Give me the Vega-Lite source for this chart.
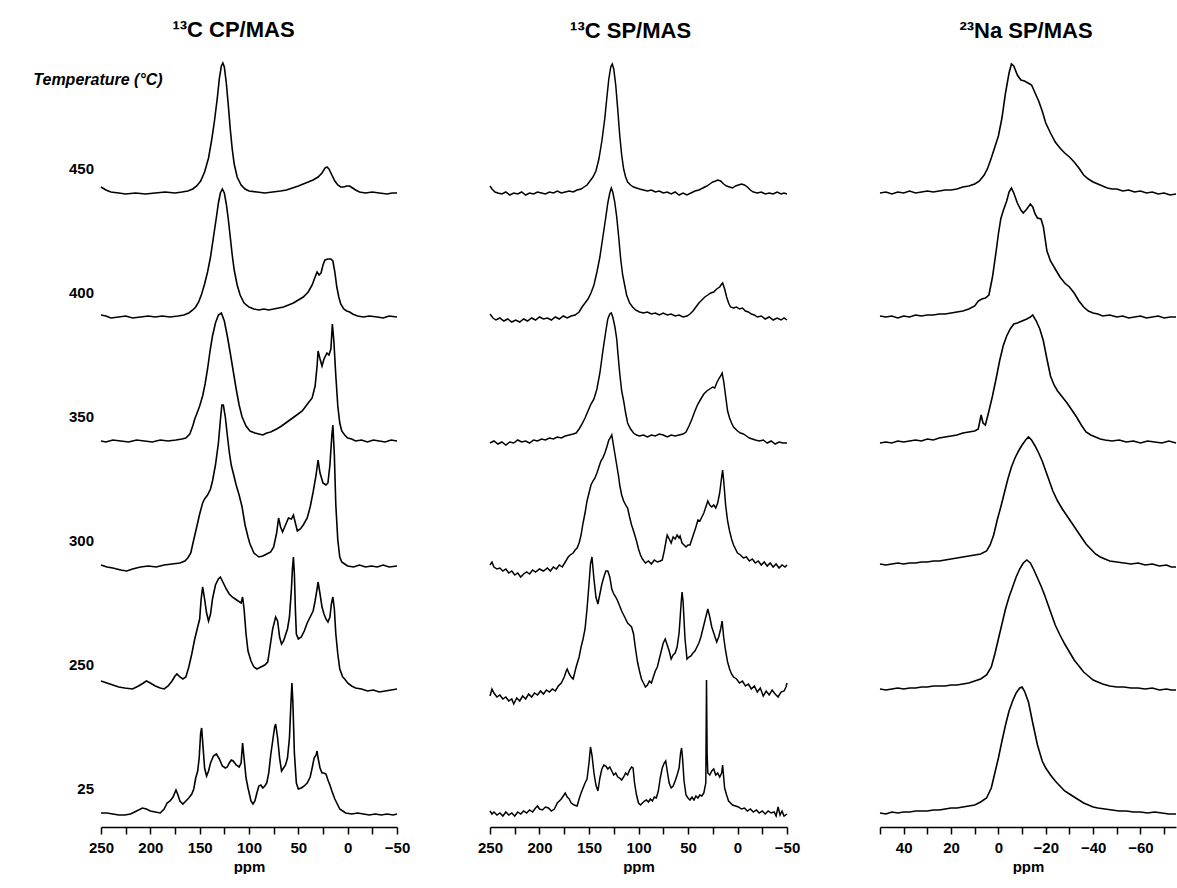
{
"$schema": "https://vega.github.io/schema/vega-lite/v6.json",
"background": "white",
"padding": {"left": 33, "top": 18, "right": 0, "bottom": 0},
"config": {
  "view": {"stroke": null},
  "font": "Liberation Sans",
  "line": {"color": "black", "strokeWidth": 1.6},
  "axisX": {"domainColor": "black", "domainWidth": 1.5, "tickColor": "black", "tickWidth": 1.5, "tickSize": 7, "labelFontSize": 15, "labelFontWeight": "bold", "labelColor": "black", "labelFlush": false, "labelPadding": 6, "titleFontSize": 15, "titleFontWeight": "bold", "titleColor": "black", "titlePadding": 4, "grid": false, "offset": -24},
  "title": {"fontSize": 22, "fontWeight": "bold", "color": "black", "anchor": "middle", "offset": 18}
},
"spacing": 76,
"datasets": {
"cp": [
{"t":450,"ppm":250,"i":6},{"t":450,"ppm":245,"i":3},{"t":450,"ppm":240,"i":1},{"t":450,"ppm":232,"i":0},{"t":450,"ppm":225,"i":-1},{"t":450,"ppm":215,"i":0},{"t":450,"ppm":205,"i":-1},{"t":450,"ppm":195,"i":0},{"t":450,"ppm":185,"i":1},{"t":450,"ppm":175,"i":0},{"t":450,"ppm":168,"i":1},{"t":450,"ppm":162,"i":2},{"t":450,"ppm":157,"i":4},{"t":450,"ppm":153,"i":7},{"t":450,"ppm":149,"i":12},{"t":450,"ppm":145,"i":21},{"t":450,"ppm":141,"i":35},{"t":450,"ppm":138,"i":52},{"t":450,"ppm":135,"i":72},{"t":450,"ppm":132,"i":96},{"t":450,"ppm":130,"i":115},{"t":450,"ppm":128,"i":127},{"t":450,"ppm":126.5,"i":130},{"t":450,"ppm":125,"i":126},{"t":450,"ppm":123,"i":110},{"t":450,"ppm":121,"i":88},{"t":450,"ppm":119,"i":64},{"t":450,"ppm":117,"i":44},{"t":450,"ppm":115,"i":29},{"t":450,"ppm":112,"i":16},{"t":450,"ppm":108,"i":8},{"t":450,"ppm":104,"i":4},{"t":450,"ppm":100,"i":2},{"t":450,"ppm":92,"i":1},{"t":450,"ppm":84,"i":0},{"t":450,"ppm":76,"i":1},{"t":450,"ppm":68,"i":2},{"t":450,"ppm":62,"i":3},{"t":450,"ppm":56,"i":5},{"t":450,"ppm":50,"i":7},{"t":450,"ppm":45,"i":9},{"t":450,"ppm":40,"i":11},{"t":450,"ppm":35,"i":13},{"t":450,"ppm":30,"i":16},{"t":450,"ppm":26,"i":20},{"t":450,"ppm":23,"i":25},{"t":450,"ppm":21,"i":26},{"t":450,"ppm":19,"i":24},{"t":450,"ppm":16,"i":18},{"t":450,"ppm":13,"i":12},{"t":450,"ppm":10,"i":8},{"t":450,"ppm":7,"i":6},{"t":450,"ppm":4,"i":6},{"t":450,"ppm":1,"i":7},{"t":450,"ppm":-2,"i":7},{"t":450,"ppm":-5,"i":5},{"t":450,"ppm":-8,"i":3},{"t":450,"ppm":-12,"i":1},{"t":450,"ppm":-18,"i":0},{"t":450,"ppm":-25,"i":1},{"t":450,"ppm":-32,"i":0},{"t":450,"ppm":-40,"i":-1},{"t":450,"ppm":-45,"i":0},{"t":450,"ppm":-50,"i":0},
{"t":400,"ppm":250,"i":2},{"t":400,"ppm":245,"i":1},{"t":400,"ppm":240,"i":-1},{"t":400,"ppm":232,"i":0},{"t":400,"ppm":225,"i":1},{"t":400,"ppm":218,"i":-1},{"t":400,"ppm":210,"i":0},{"t":400,"ppm":202,"i":1},{"t":400,"ppm":195,"i":0},{"t":400,"ppm":188,"i":1},{"t":400,"ppm":180,"i":0},{"t":400,"ppm":172,"i":1},{"t":400,"ppm":166,"i":2},{"t":400,"ppm":161,"i":4},{"t":400,"ppm":157,"i":7},{"t":400,"ppm":154,"i":10},{"t":400,"ppm":151,"i":15},{"t":400,"ppm":148,"i":23},{"t":400,"ppm":145,"i":33},{"t":400,"ppm":142,"i":45},{"t":400,"ppm":139,"i":60},{"t":400,"ppm":136,"i":80},{"t":400,"ppm":133,"i":100},{"t":400,"ppm":131,"i":114},{"t":400,"ppm":129,"i":124},{"t":400,"ppm":127,"i":128},{"t":400,"ppm":125,"i":124},{"t":400,"ppm":123,"i":113},{"t":400,"ppm":121,"i":98},{"t":400,"ppm":119,"i":80},{"t":400,"ppm":117,"i":62},{"t":400,"ppm":115,"i":47},{"t":400,"ppm":112,"i":32},{"t":400,"ppm":109,"i":22},{"t":400,"ppm":105,"i":14},{"t":400,"ppm":100,"i":10},{"t":400,"ppm":95,"i":8},{"t":400,"ppm":90,"i":7},{"t":400,"ppm":85,"i":8},{"t":400,"ppm":80,"i":7},{"t":400,"ppm":75,"i":8},{"t":400,"ppm":70,"i":9},{"t":400,"ppm":65,"i":10},{"t":400,"ppm":60,"i":12},{"t":400,"ppm":55,"i":14},{"t":400,"ppm":50,"i":17},{"t":400,"ppm":45,"i":20},{"t":400,"ppm":40,"i":25},{"t":400,"ppm":36,"i":32},{"t":400,"ppm":33,"i":40},{"t":400,"ppm":31,"i":45},{"t":400,"ppm":29,"i":42},{"t":400,"ppm":27,"i":44},{"t":400,"ppm":25,"i":52},{"t":400,"ppm":23,"i":57},{"t":400,"ppm":20,"i":58},{"t":400,"ppm":17,"i":58},{"t":400,"ppm":15,"i":56},{"t":400,"ppm":13,"i":45},{"t":400,"ppm":11,"i":30},{"t":400,"ppm":9,"i":20},{"t":400,"ppm":7,"i":13},{"t":400,"ppm":4,"i":8},{"t":400,"ppm":1,"i":6},{"t":400,"ppm":-2,"i":5},{"t":400,"ppm":-5,"i":3},{"t":400,"ppm":-10,"i":1},{"t":400,"ppm":-16,"i":0},{"t":400,"ppm":-22,"i":1},{"t":400,"ppm":-30,"i":0},{"t":400,"ppm":-36,"i":-1},{"t":400,"ppm":-42,"i":1},{"t":400,"ppm":-50,"i":0},
{"t":350,"ppm":250,"i":0},{"t":350,"ppm":245,"i":-1},{"t":350,"ppm":238,"i":1},{"t":350,"ppm":230,"i":0},{"t":350,"ppm":222,"i":-1},{"t":350,"ppm":214,"i":1},{"t":350,"ppm":206,"i":0},{"t":350,"ppm":198,"i":-1},{"t":350,"ppm":190,"i":1},{"t":350,"ppm":182,"i":0},{"t":350,"ppm":174,"i":1},{"t":350,"ppm":168,"i":2},{"t":350,"ppm":164,"i":3},{"t":350,"ppm":160,"i":7},{"t":350,"ppm":157,"i":15},{"t":350,"ppm":155,"i":22},{"t":350,"ppm":153,"i":27},{"t":350,"ppm":150,"i":35},{"t":350,"ppm":147,"i":45},{"t":350,"ppm":144.5,"i":57},{"t":350,"ppm":142,"i":72},{"t":350,"ppm":139.5,"i":90},{"t":350,"ppm":137,"i":105},{"t":350,"ppm":134,"i":118},{"t":350,"ppm":131,"i":126},{"t":350,"ppm":128,"i":128},{"t":350,"ppm":125,"i":120},{"t":350,"ppm":122,"i":105},{"t":350,"ppm":119,"i":88},{"t":350,"ppm":116,"i":70},{"t":350,"ppm":113,"i":52},{"t":350,"ppm":110,"i":36},{"t":350,"ppm":107,"i":24},{"t":350,"ppm":103,"i":15},{"t":350,"ppm":99,"i":10},{"t":350,"ppm":94,"i":8},{"t":350,"ppm":90,"i":7},{"t":350,"ppm":86,"i":6},{"t":350,"ppm":82,"i":8},{"t":350,"ppm":78,"i":9},{"t":350,"ppm":72,"i":12},{"t":350,"ppm":67,"i":15},{"t":350,"ppm":60,"i":20},{"t":350,"ppm":53,"i":25},{"t":350,"ppm":46,"i":30},{"t":350,"ppm":40,"i":38},{"t":350,"ppm":36,"i":43},{"t":350,"ppm":33,"i":55},{"t":350,"ppm":31,"i":75},{"t":350,"ppm":30,"i":90},{"t":350,"ppm":28,"i":82},{"t":350,"ppm":26,"i":75},{"t":350,"ppm":24,"i":82},{"t":350,"ppm":21,"i":88},{"t":350,"ppm":19,"i":86},{"t":350,"ppm":17,"i":92},{"t":350,"ppm":15.5,"i":117},{"t":350,"ppm":14,"i":100},{"t":350,"ppm":12,"i":65},{"t":350,"ppm":10,"i":35},{"t":350,"ppm":8,"i":18},{"t":350,"ppm":6,"i":10},{"t":350,"ppm":3,"i":6},{"t":350,"ppm":0,"i":3},{"t":350,"ppm":-4,"i":2},{"t":350,"ppm":-8,"i":0},{"t":350,"ppm":-14,"i":1},{"t":350,"ppm":-20,"i":-1},{"t":350,"ppm":-26,"i":1},{"t":350,"ppm":-32,"i":0},{"t":350,"ppm":-38,"i":-1},{"t":350,"ppm":-44,"i":1},{"t":350,"ppm":-50,"i":0},
{"t":300,"ppm":250,"i":0},{"t":300,"ppm":244,"i":-2},{"t":300,"ppm":238,"i":-3},{"t":300,"ppm":230,"i":-5},{"t":300,"ppm":224,"i":-6},{"t":300,"ppm":218,"i":-4},{"t":300,"ppm":210,"i":-2},{"t":300,"ppm":202,"i":-1},{"t":300,"ppm":194,"i":-2},{"t":300,"ppm":186,"i":0},{"t":300,"ppm":178,"i":1},{"t":300,"ppm":170,"i":2},{"t":300,"ppm":165,"i":4},{"t":300,"ppm":162,"i":7},{"t":300,"ppm":159,"i":12},{"t":300,"ppm":157,"i":21},{"t":300,"ppm":153,"i":38},{"t":300,"ppm":150,"i":51},{"t":300,"ppm":147,"i":62},{"t":300,"ppm":145,"i":66},{"t":300,"ppm":142,"i":70},{"t":300,"ppm":139,"i":76},{"t":300,"ppm":137,"i":84},{"t":300,"ppm":134,"i":100},{"t":300,"ppm":131,"i":122},{"t":300,"ppm":129,"i":145},{"t":300,"ppm":127.5,"i":160},{"t":300,"ppm":126,"i":160},{"t":300,"ppm":124,"i":148},{"t":300,"ppm":122,"i":130},{"t":300,"ppm":120,"i":113},{"t":300,"ppm":118,"i":100},{"t":300,"ppm":116,"i":92},{"t":300,"ppm":113,"i":80},{"t":300,"ppm":110,"i":70},{"t":300,"ppm":107,"i":58},{"t":300,"ppm":104,"i":40},{"t":300,"ppm":101,"i":28},{"t":300,"ppm":99,"i":21},{"t":300,"ppm":95,"i":12},{"t":300,"ppm":90,"i":8},{"t":300,"ppm":86,"i":9},{"t":300,"ppm":82,"i":11},{"t":300,"ppm":78,"i":13},{"t":300,"ppm":75,"i":18},{"t":300,"ppm":72,"i":32},{"t":300,"ppm":70,"i":47},{"t":300,"ppm":68,"i":38},{"t":300,"ppm":66,"i":33},{"t":300,"ppm":63,"i":40},{"t":300,"ppm":60,"i":47},{"t":300,"ppm":57,"i":46},{"t":300,"ppm":55,"i":50},{"t":300,"ppm":53,"i":42},{"t":300,"ppm":51,"i":34},{"t":300,"ppm":48,"i":36},{"t":300,"ppm":45,"i":40},{"t":300,"ppm":41,"i":47},{"t":300,"ppm":38,"i":58},{"t":300,"ppm":35,"i":73},{"t":300,"ppm":32,"i":90},{"t":300,"ppm":30,"i":105},{"t":300,"ppm":28,"i":92},{"t":300,"ppm":25,"i":82},{"t":300,"ppm":22,"i":80},{"t":300,"ppm":20,"i":82},{"t":300,"ppm":18,"i":100},{"t":300,"ppm":16,"i":130},{"t":300,"ppm":15,"i":140},{"t":300,"ppm":13.5,"i":110},{"t":300,"ppm":12,"i":60},{"t":300,"ppm":10,"i":25},{"t":300,"ppm":8,"i":8},{"t":300,"ppm":6,"i":3},{"t":300,"ppm":3,"i":1},{"t":300,"ppm":0,"i":-1},{"t":300,"ppm":-6,"i":-2},{"t":300,"ppm":-12,"i":0},{"t":300,"ppm":-18,"i":-2},{"t":300,"ppm":-24,"i":-1},{"t":300,"ppm":-30,"i":-2},{"t":300,"ppm":-36,"i":0},{"t":300,"ppm":-42,"i":-2},{"t":300,"ppm":-50,"i":-1},
{"t":250,"ppm":250,"i":8},{"t":250,"ppm":244,"i":6},{"t":250,"ppm":238,"i":4},{"t":250,"ppm":232,"i":2},{"t":250,"ppm":226,"i":1},{"t":250,"ppm":218,"i":0},{"t":250,"ppm":212,"i":3},{"t":250,"ppm":207,"i":6},{"t":250,"ppm":204,"i":8},{"t":250,"ppm":200,"i":6},{"t":250,"ppm":195,"i":3},{"t":250,"ppm":190,"i":1},{"t":250,"ppm":186,"i":0},{"t":250,"ppm":182,"i":3},{"t":250,"ppm":178,"i":8},{"t":250,"ppm":175,"i":13},{"t":250,"ppm":173,"i":15},{"t":250,"ppm":170,"i":12},{"t":250,"ppm":167,"i":10},{"t":250,"ppm":164,"i":12},{"t":250,"ppm":161,"i":22},{"t":250,"ppm":158,"i":35},{"t":250,"ppm":155,"i":50},{"t":250,"ppm":152,"i":62},{"t":250,"ppm":150,"i":70},{"t":250,"ppm":148.5,"i":90},{"t":250,"ppm":147,"i":102},{"t":250,"ppm":145,"i":90},{"t":250,"ppm":143,"i":76},{"t":250,"ppm":141,"i":68},{"t":250,"ppm":139,"i":75},{"t":250,"ppm":137,"i":90},{"t":250,"ppm":134,"i":104},{"t":250,"ppm":131,"i":110},{"t":250,"ppm":129,"i":112},{"t":250,"ppm":126,"i":106},{"t":250,"ppm":123,"i":100},{"t":250,"ppm":120,"i":95},{"t":250,"ppm":117,"i":92},{"t":250,"ppm":114,"i":90},{"t":250,"ppm":111,"i":88},{"t":250,"ppm":108,"i":86},{"t":250,"ppm":106.5,"i":92},{"t":250,"ppm":105,"i":80},{"t":250,"ppm":103,"i":55},{"t":250,"ppm":101,"i":38},{"t":250,"ppm":98,"i":28},{"t":250,"ppm":95,"i":22},{"t":250,"ppm":92,"i":20},{"t":250,"ppm":88,"i":22},{"t":250,"ppm":84,"i":24},{"t":250,"ppm":81,"i":27},{"t":250,"ppm":79,"i":40},{"t":250,"ppm":76,"i":60},{"t":250,"ppm":73,"i":72},{"t":250,"ppm":71,"i":68},{"t":250,"ppm":69,"i":52},{"t":250,"ppm":67,"i":45},{"t":250,"ppm":65,"i":48},{"t":250,"ppm":63,"i":54},{"t":250,"ppm":61,"i":60},{"t":250,"ppm":59,"i":72},{"t":250,"ppm":57,"i":100},{"t":250,"ppm":56,"i":120},{"t":250,"ppm":55,"i":132},{"t":250,"ppm":54,"i":115},{"t":250,"ppm":53,"i":80},{"t":250,"ppm":52,"i":55},{"t":250,"ppm":50,"i":50},{"t":250,"ppm":47,"i":52},{"t":250,"ppm":44,"i":58},{"t":250,"ppm":41,"i":66},{"t":250,"ppm":38,"i":72},{"t":250,"ppm":35,"i":78},{"t":250,"ppm":33,"i":88},{"t":250,"ppm":31,"i":100},{"t":250,"ppm":30,"i":107},{"t":250,"ppm":28,"i":95},{"t":250,"ppm":26,"i":82},{"t":250,"ppm":24,"i":75},{"t":250,"ppm":22,"i":70},{"t":250,"ppm":20,"i":67},{"t":250,"ppm":18,"i":72},{"t":250,"ppm":16.5,"i":85},{"t":250,"ppm":15,"i":92},{"t":250,"ppm":13.5,"i":80},{"t":250,"ppm":12,"i":55},{"t":250,"ppm":10,"i":35},{"t":250,"ppm":8,"i":20},{"t":250,"ppm":5,"i":12},{"t":250,"ppm":3,"i":10},{"t":250,"ppm":0,"i":6},{"t":250,"ppm":-4,"i":3},{"t":250,"ppm":-8,"i":1},{"t":250,"ppm":-14,"i":0},{"t":250,"ppm":-20,"i":-2},{"t":250,"ppm":-26,"i":-1},{"t":250,"ppm":-32,"i":-3},{"t":250,"ppm":-38,"i":-2},{"t":250,"ppm":-44,"i":-1},{"t":250,"ppm":-50,"i":0},
{"t":25,"ppm":250,"i":0},{"t":25,"ppm":244,"i":0},{"t":25,"ppm":238,"i":-1},{"t":25,"ppm":232,"i":-2},{"t":25,"ppm":226,"i":-2},{"t":25,"ppm":220,"i":-1},{"t":25,"ppm":214,"i":2},{"t":25,"ppm":208,"i":5},{"t":25,"ppm":204,"i":4},{"t":25,"ppm":200,"i":2},{"t":25,"ppm":195,"i":1},{"t":25,"ppm":190,"i":0},{"t":25,"ppm":186,"i":4},{"t":25,"ppm":183,"i":10},{"t":25,"ppm":180,"i":12},{"t":25,"ppm":177,"i":16},{"t":25,"ppm":174,"i":23},{"t":25,"ppm":172,"i":18},{"t":25,"ppm":170,"i":12},{"t":25,"ppm":167,"i":9},{"t":25,"ppm":164,"i":12},{"t":25,"ppm":161,"i":15},{"t":25,"ppm":158,"i":19},{"t":25,"ppm":156,"i":24},{"t":25,"ppm":154,"i":35},{"t":25,"ppm":152,"i":42},{"t":25,"ppm":150.5,"i":55},{"t":25,"ppm":149,"i":80},{"t":25,"ppm":148,"i":85},{"t":25,"ppm":146.5,"i":65},{"t":25,"ppm":145,"i":45},{"t":25,"ppm":143,"i":37},{"t":25,"ppm":141,"i":42},{"t":25,"ppm":139,"i":50},{"t":25,"ppm":136,"i":57},{"t":25,"ppm":133,"i":59},{"t":25,"ppm":130,"i":54},{"t":25,"ppm":127,"i":47},{"t":25,"ppm":124,"i":45},{"t":25,"ppm":122,"i":46},{"t":25,"ppm":120,"i":50},{"t":25,"ppm":118,"i":53},{"t":25,"ppm":116,"i":52},{"t":25,"ppm":113,"i":48},{"t":25,"ppm":110,"i":46},{"t":25,"ppm":108,"i":50},{"t":25,"ppm":106.5,"i":70},{"t":25,"ppm":105,"i":55},{"t":25,"ppm":103,"i":35},{"t":25,"ppm":101,"i":25},{"t":25,"ppm":98,"i":12},{"t":25,"ppm":96,"i":9},{"t":25,"ppm":94,"i":12},{"t":25,"ppm":92,"i":20},{"t":25,"ppm":90,"i":27},{"t":25,"ppm":88,"i":28},{"t":25,"ppm":86,"i":25},{"t":25,"ppm":84,"i":27},{"t":25,"ppm":82,"i":30},{"t":25,"ppm":80,"i":40},{"t":25,"ppm":78,"i":58},{"t":25,"ppm":76,"i":72},{"t":25,"ppm":74,"i":86},{"t":25,"ppm":73,"i":89},{"t":25,"ppm":71,"i":75},{"t":25,"ppm":69,"i":55},{"t":25,"ppm":67,"i":42},{"t":25,"ppm":65,"i":45},{"t":25,"ppm":63,"i":48},{"t":25,"ppm":61,"i":55},{"t":25,"ppm":59,"i":75},{"t":25,"ppm":57.5,"i":110},{"t":25,"ppm":56.5,"i":130},{"t":25,"ppm":55.5,"i":110},{"t":25,"ppm":54,"i":60},{"t":25,"ppm":52,"i":30},{"t":25,"ppm":50,"i":24},{"t":25,"ppm":47,"i":25},{"t":25,"ppm":44,"i":27},{"t":25,"ppm":41,"i":30},{"t":25,"ppm":38,"i":36},{"t":25,"ppm":36,"i":45},{"t":25,"ppm":34,"i":55},{"t":25,"ppm":32,"i":58},{"t":25,"ppm":31,"i":62},{"t":25,"ppm":30,"i":55},{"t":25,"ppm":28,"i":45},{"t":25,"ppm":26,"i":40},{"t":25,"ppm":24,"i":40},{"t":25,"ppm":22,"i":39},{"t":25,"ppm":20,"i":33},{"t":25,"ppm":18,"i":28},{"t":25,"ppm":16,"i":22},{"t":25,"ppm":13,"i":14},{"t":25,"ppm":10,"i":8},{"t":25,"ppm":8,"i":4},{"t":25,"ppm":5,"i":2},{"t":25,"ppm":2,"i":0},{"t":25,"ppm":-4,"i":-1},{"t":25,"ppm":-10,"i":0},{"t":25,"ppm":-16,"i":-1},{"t":25,"ppm":-22,"i":-2},{"t":25,"ppm":-28,"i":-1},{"t":25,"ppm":-34,"i":-2},{"t":25,"ppm":-40,"i":-1},{"t":25,"ppm":-46,"i":-2},{"t":25,"ppm":-50,"i":-1}
],
"sp": [
{"t":450,"ppm":250,"i":7},{"t":450,"ppm":248,"i":4},{"t":450,"ppm":245,"i":1},{"t":450,"ppm":242,"i":0},{"t":450,"ppm":238,"i":-1},{"t":450,"ppm":234,"i":1},{"t":450,"ppm":230,"i":-2},{"t":450,"ppm":226,"i":0},{"t":450,"ppm":222,"i":-1},{"t":450,"ppm":218,"i":1},{"t":450,"ppm":214,"i":-2},{"t":450,"ppm":210,"i":0},{"t":450,"ppm":206,"i":-1},{"t":450,"ppm":202,"i":1},{"t":450,"ppm":198,"i":0},{"t":450,"ppm":194,"i":-1},{"t":450,"ppm":190,"i":1},{"t":450,"ppm":186,"i":0},{"t":450,"ppm":182,"i":2},{"t":450,"ppm":178,"i":0},{"t":450,"ppm":174,"i":1},{"t":450,"ppm":170,"i":2},{"t":450,"ppm":166,"i":1},{"t":450,"ppm":162,"i":3},{"t":450,"ppm":158,"i":4},{"t":450,"ppm":155,"i":6},{"t":450,"ppm":152,"i":8},{"t":450,"ppm":149,"i":12},{"t":450,"ppm":146,"i":16},{"t":450,"ppm":143,"i":22},{"t":450,"ppm":140,"i":34},{"t":450,"ppm":137,"i":52},{"t":450,"ppm":134,"i":75},{"t":450,"ppm":132,"i":95},{"t":450,"ppm":130,"i":114},{"t":450,"ppm":128,"i":126},{"t":450,"ppm":126.5,"i":129},{"t":450,"ppm":125,"i":124},{"t":450,"ppm":123,"i":108},{"t":450,"ppm":121,"i":84},{"t":450,"ppm":119,"i":58},{"t":450,"ppm":117,"i":38},{"t":450,"ppm":115,"i":24},{"t":450,"ppm":113,"i":16},{"t":450,"ppm":111,"i":11},{"t":450,"ppm":108,"i":8},{"t":450,"ppm":105,"i":6},{"t":450,"ppm":102,"i":5},{"t":450,"ppm":99,"i":4},{"t":450,"ppm":95,"i":3},{"t":450,"ppm":91,"i":2},{"t":450,"ppm":87,"i":3},{"t":450,"ppm":83,"i":1},{"t":450,"ppm":79,"i":2},{"t":450,"ppm":75,"i":0},{"t":450,"ppm":71,"i":1},{"t":450,"ppm":67,"i":-1},{"t":450,"ppm":63,"i":1},{"t":450,"ppm":59,"i":-2},{"t":450,"ppm":55,"i":0},{"t":450,"ppm":51,"i":-2},{"t":450,"ppm":47,"i":0},{"t":450,"ppm":43,"i":2},{"t":450,"ppm":39,"i":3},{"t":450,"ppm":35,"i":5},{"t":450,"ppm":31,"i":7},{"t":450,"ppm":28,"i":9},{"t":450,"ppm":25,"i":11},{"t":450,"ppm":22,"i":12},{"t":450,"ppm":20,"i":13},{"t":450,"ppm":17,"i":12},{"t":450,"ppm":14,"i":9},{"t":450,"ppm":11,"i":7},{"t":450,"ppm":8,"i":6},{"t":450,"ppm":5,"i":5},{"t":450,"ppm":2,"i":7},{"t":450,"ppm":-1,"i":8},{"t":450,"ppm":-4,"i":9},{"t":450,"ppm":-7,"i":8},{"t":450,"ppm":-10,"i":6},{"t":450,"ppm":-13,"i":3},{"t":450,"ppm":-16,"i":1},{"t":450,"ppm":-20,"i":0},{"t":450,"ppm":-24,"i":1},{"t":450,"ppm":-28,"i":-1},{"t":450,"ppm":-32,"i":0},{"t":450,"ppm":-36,"i":-1},{"t":450,"ppm":-40,"i":1},{"t":450,"ppm":-44,"i":-1},{"t":450,"ppm":-47,"i":0},{"t":450,"ppm":-50,"i":-1},
{"t":400,"ppm":250,"i":3},{"t":400,"ppm":247,"i":-1},{"t":400,"ppm":244,"i":-3},{"t":400,"ppm":240,"i":-1},{"t":400,"ppm":236,"i":-4},{"t":400,"ppm":232,"i":-2},{"t":400,"ppm":228,"i":-5},{"t":400,"ppm":224,"i":-3},{"t":400,"ppm":220,"i":-5},{"t":400,"ppm":216,"i":-2},{"t":400,"ppm":212,"i":-4},{"t":400,"ppm":208,"i":-1},{"t":400,"ppm":204,"i":-3},{"t":400,"ppm":200,"i":0},{"t":400,"ppm":196,"i":-2},{"t":400,"ppm":192,"i":-1},{"t":400,"ppm":188,"i":-3},{"t":400,"ppm":184,"i":0},{"t":400,"ppm":180,"i":-2},{"t":400,"ppm":176,"i":1},{"t":400,"ppm":172,"i":-1},{"t":400,"ppm":168,"i":1},{"t":400,"ppm":164,"i":2},{"t":400,"ppm":160,"i":5},{"t":400,"ppm":157,"i":10},{"t":400,"ppm":154,"i":14},{"t":400,"ppm":151,"i":18},{"t":400,"ppm":148,"i":24},{"t":400,"ppm":145,"i":32},{"t":400,"ppm":142,"i":45},{"t":400,"ppm":139,"i":60},{"t":400,"ppm":136,"i":80},{"t":400,"ppm":133,"i":100},{"t":400,"ppm":131,"i":114},{"t":400,"ppm":129,"i":124},{"t":400,"ppm":127.5,"i":129},{"t":400,"ppm":126,"i":125},{"t":400,"ppm":124,"i":115},{"t":400,"ppm":122,"i":100},{"t":400,"ppm":120,"i":80},{"t":400,"ppm":118,"i":58},{"t":400,"ppm":116,"i":42},{"t":400,"ppm":114,"i":32},{"t":400,"ppm":112,"i":22},{"t":400,"ppm":109,"i":14},{"t":400,"ppm":106,"i":10},{"t":400,"ppm":103,"i":7},{"t":400,"ppm":99,"i":5},{"t":400,"ppm":95,"i":4},{"t":400,"ppm":91,"i":5},{"t":400,"ppm":87,"i":3},{"t":400,"ppm":83,"i":4},{"t":400,"ppm":79,"i":2},{"t":400,"ppm":75,"i":4},{"t":400,"ppm":71,"i":2},{"t":400,"ppm":67,"i":3},{"t":400,"ppm":63,"i":1},{"t":400,"ppm":59,"i":2},{"t":400,"ppm":55,"i":0},{"t":400,"ppm":51,"i":1},{"t":400,"ppm":48,"i":3},{"t":400,"ppm":45,"i":6},{"t":400,"ppm":42,"i":10},{"t":400,"ppm":39,"i":14},{"t":400,"ppm":36,"i":17},{"t":400,"ppm":33,"i":20},{"t":400,"ppm":30,"i":22},{"t":400,"ppm":27,"i":24},{"t":400,"ppm":24,"i":25},{"t":400,"ppm":21,"i":28},{"t":400,"ppm":18,"i":30},{"t":400,"ppm":16,"i":33},{"t":400,"ppm":15,"i":34},{"t":400,"ppm":13,"i":28},{"t":400,"ppm":11,"i":20},{"t":400,"ppm":9,"i":14},{"t":400,"ppm":7,"i":10},{"t":400,"ppm":4,"i":9},{"t":400,"ppm":1,"i":10},{"t":400,"ppm":-2,"i":8},{"t":400,"ppm":-5,"i":9},{"t":400,"ppm":-8,"i":6},{"t":400,"ppm":-11,"i":5},{"t":400,"ppm":-14,"i":3},{"t":400,"ppm":-17,"i":2},{"t":400,"ppm":-20,"i":0},{"t":400,"ppm":-24,"i":1},{"t":400,"ppm":-28,"i":-2},{"t":400,"ppm":-32,"i":0},{"t":400,"ppm":-36,"i":-3},{"t":400,"ppm":-40,"i":-1},{"t":400,"ppm":-44,"i":-3},{"t":400,"ppm":-47,"i":-1},{"t":400,"ppm":-50,"i":-3},
{"t":350,"ppm":250,"i":-2},{"t":350,"ppm":246,"i":0},{"t":350,"ppm":242,"i":-3},{"t":350,"ppm":238,"i":-1},{"t":350,"ppm":234,"i":-4},{"t":350,"ppm":230,"i":-1},{"t":350,"ppm":226,"i":-2},{"t":350,"ppm":222,"i":1},{"t":350,"ppm":218,"i":-1},{"t":350,"ppm":214,"i":0},{"t":350,"ppm":210,"i":-2},{"t":350,"ppm":206,"i":1},{"t":350,"ppm":202,"i":0},{"t":350,"ppm":198,"i":2},{"t":350,"ppm":194,"i":1},{"t":350,"ppm":190,"i":3},{"t":350,"ppm":186,"i":2},{"t":350,"ppm":182,"i":4},{"t":350,"ppm":178,"i":3},{"t":350,"ppm":174,"i":5},{"t":350,"ppm":170,"i":6},{"t":350,"ppm":166,"i":7},{"t":350,"ppm":163,"i":8},{"t":350,"ppm":160,"i":12},{"t":350,"ppm":157,"i":17},{"t":350,"ppm":154,"i":23},{"t":350,"ppm":151,"i":30},{"t":350,"ppm":148,"i":37},{"t":350,"ppm":145,"i":42},{"t":350,"ppm":142,"i":52},{"t":350,"ppm":139,"i":68},{"t":350,"ppm":136,"i":90},{"t":350,"ppm":133,"i":110},{"t":350,"ppm":131,"i":122},{"t":350,"ppm":129,"i":127},{"t":350,"ppm":127.5,"i":128},{"t":350,"ppm":126,"i":124},{"t":350,"ppm":124,"i":115},{"t":350,"ppm":122,"i":102},{"t":350,"ppm":121,"i":90},{"t":350,"ppm":119,"i":68},{"t":350,"ppm":117,"i":50},{"t":350,"ppm":115,"i":40},{"t":350,"ppm":113,"i":28},{"t":350,"ppm":111,"i":18},{"t":350,"ppm":108,"i":12},{"t":350,"ppm":105,"i":8},{"t":350,"ppm":102,"i":6},{"t":350,"ppm":99,"i":5},{"t":350,"ppm":95,"i":6},{"t":350,"ppm":91,"i":4},{"t":350,"ppm":87,"i":6},{"t":350,"ppm":83,"i":5},{"t":350,"ppm":79,"i":7},{"t":350,"ppm":75,"i":6},{"t":350,"ppm":71,"i":4},{"t":350,"ppm":67,"i":6},{"t":350,"ppm":63,"i":5},{"t":350,"ppm":59,"i":6},{"t":350,"ppm":55,"i":7},{"t":350,"ppm":52,"i":9},{"t":350,"ppm":49,"i":15},{"t":350,"ppm":46,"i":22},{"t":350,"ppm":43,"i":30},{"t":350,"ppm":40,"i":37},{"t":350,"ppm":37,"i":42},{"t":350,"ppm":34,"i":47},{"t":350,"ppm":31,"i":50},{"t":350,"ppm":28,"i":52},{"t":350,"ppm":25,"i":54},{"t":350,"ppm":23,"i":53},{"t":350,"ppm":21,"i":58},{"t":350,"ppm":19,"i":62},{"t":350,"ppm":17,"i":65},{"t":350,"ppm":15.5,"i":68},{"t":350,"ppm":14,"i":60},{"t":350,"ppm":12,"i":45},{"t":350,"ppm":10,"i":30},{"t":350,"ppm":8,"i":23},{"t":350,"ppm":6,"i":18},{"t":350,"ppm":4,"i":14},{"t":350,"ppm":2,"i":12},{"t":350,"ppm":0,"i":10},{"t":350,"ppm":-3,"i":8},{"t":350,"ppm":-6,"i":7},{"t":350,"ppm":-9,"i":5},{"t":350,"ppm":-12,"i":3},{"t":350,"ppm":-15,"i":2},{"t":350,"ppm":-18,"i":1},{"t":350,"ppm":-22,"i":0},{"t":350,"ppm":-26,"i":1},{"t":350,"ppm":-30,"i":-2},{"t":350,"ppm":-34,"i":0},{"t":350,"ppm":-38,"i":-3},{"t":350,"ppm":-42,"i":-1},{"t":350,"ppm":-46,"i":-2},{"t":350,"ppm":-50,"i":-2},
{"t":300,"ppm":250,"i":0},{"t":300,"ppm":248,"i":3},{"t":300,"ppm":246,"i":-2},{"t":300,"ppm":243,"i":-4},{"t":300,"ppm":240,"i":-3},{"t":300,"ppm":237,"i":-6},{"t":300,"ppm":234,"i":-4},{"t":300,"ppm":231,"i":-8},{"t":300,"ppm":228,"i":-6},{"t":300,"ppm":225,"i":-10},{"t":300,"ppm":222,"i":-8},{"t":300,"ppm":219,"i":-12},{"t":300,"ppm":216,"i":-9},{"t":300,"ppm":213,"i":-7},{"t":300,"ppm":210,"i":-9},{"t":300,"ppm":207,"i":-5},{"t":300,"ppm":204,"i":-7},{"t":300,"ppm":200,"i":-4},{"t":300,"ppm":196,"i":-6},{"t":300,"ppm":192,"i":-3},{"t":300,"ppm":189,"i":-6},{"t":300,"ppm":186,"i":-2},{"t":300,"ppm":183,"i":-4},{"t":300,"ppm":180,"i":0},{"t":300,"ppm":177,"i":-2},{"t":300,"ppm":174,"i":3},{"t":300,"ppm":171,"i":8},{"t":300,"ppm":169,"i":10},{"t":300,"ppm":166,"i":12},{"t":300,"ppm":164,"i":15},{"t":300,"ppm":162,"i":17},{"t":300,"ppm":160,"i":22},{"t":300,"ppm":158,"i":30},{"t":300,"ppm":156,"i":42},{"t":300,"ppm":154,"i":52},{"t":300,"ppm":152,"i":64},{"t":300,"ppm":150,"i":72},{"t":300,"ppm":148,"i":80},{"t":300,"ppm":146,"i":84},{"t":300,"ppm":144,"i":87},{"t":300,"ppm":142,"i":92},{"t":300,"ppm":140,"i":98},{"t":300,"ppm":138,"i":104},{"t":300,"ppm":136,"i":107},{"t":300,"ppm":134,"i":112},{"t":300,"ppm":132,"i":118},{"t":300,"ppm":130,"i":125},{"t":300,"ppm":128,"i":128},{"t":300,"ppm":127,"i":130},{"t":300,"ppm":126,"i":124},{"t":300,"ppm":124,"i":112},{"t":300,"ppm":122,"i":100},{"t":300,"ppm":120,"i":88},{"t":300,"ppm":119,"i":80},{"t":300,"ppm":117,"i":70},{"t":300,"ppm":115,"i":64},{"t":300,"ppm":113,"i":60},{"t":300,"ppm":111,"i":57},{"t":300,"ppm":109,"i":48},{"t":300,"ppm":107,"i":40},{"t":300,"ppm":105,"i":34},{"t":300,"ppm":102,"i":24},{"t":300,"ppm":100,"i":16},{"t":300,"ppm":98,"i":10},{"t":300,"ppm":96,"i":6},{"t":300,"ppm":93,"i":2},{"t":300,"ppm":90,"i":4},{"t":300,"ppm":87,"i":1},{"t":300,"ppm":84,"i":5},{"t":300,"ppm":81,"i":3},{"t":300,"ppm":78,"i":4},{"t":300,"ppm":76,"i":5},{"t":300,"ppm":74,"i":14},{"t":300,"ppm":72,"i":25},{"t":300,"ppm":71,"i":30},{"t":300,"ppm":69,"i":26},{"t":300,"ppm":67,"i":22},{"t":300,"ppm":65,"i":28},{"t":300,"ppm":63,"i":26},{"t":300,"ppm":61,"i":30},{"t":300,"ppm":59,"i":27},{"t":300,"ppm":58,"i":29},{"t":300,"ppm":56,"i":22},{"t":300,"ppm":54,"i":20},{"t":300,"ppm":52,"i":18},{"t":300,"ppm":50,"i":20},{"t":300,"ppm":48,"i":20},{"t":300,"ppm":46,"i":26},{"t":300,"ppm":44,"i":32},{"t":300,"ppm":42,"i":38},{"t":300,"ppm":40,"i":45},{"t":300,"ppm":38,"i":44},{"t":300,"ppm":36,"i":48},{"t":300,"ppm":34,"i":52},{"t":300,"ppm":32,"i":58},{"t":300,"ppm":30,"i":64},{"t":300,"ppm":28,"i":60},{"t":300,"ppm":26,"i":58},{"t":300,"ppm":24,"i":60},{"t":300,"ppm":22,"i":57},{"t":300,"ppm":20,"i":62},{"t":300,"ppm":18,"i":72},{"t":300,"ppm":16,"i":88},{"t":300,"ppm":15,"i":95},{"t":300,"ppm":14,"i":85},{"t":300,"ppm":12,"i":60},{"t":300,"ppm":10,"i":44},{"t":300,"ppm":8,"i":34},{"t":300,"ppm":6,"i":26},{"t":300,"ppm":4,"i":20},{"t":300,"ppm":2,"i":16},{"t":300,"ppm":0,"i":12},{"t":300,"ppm":-3,"i":10},{"t":300,"ppm":-6,"i":7},{"t":300,"ppm":-9,"i":8},{"t":300,"ppm":-12,"i":4},{"t":300,"ppm":-15,"i":6},{"t":300,"ppm":-18,"i":2},{"t":300,"ppm":-21,"i":4},{"t":300,"ppm":-24,"i":0},{"t":300,"ppm":-27,"i":3},{"t":300,"ppm":-30,"i":-1},{"t":300,"ppm":-33,"i":2},{"t":300,"ppm":-36,"i":-2},{"t":300,"ppm":-39,"i":1},{"t":300,"ppm":-42,"i":-3},{"t":300,"ppm":-45,"i":0},{"t":300,"ppm":-48,"i":-2},{"t":300,"ppm":-50,"i":0},
{"t":250,"ppm":250,"i":-7},{"t":250,"ppm":248,"i":0},{"t":250,"ppm":246,"i":-4},{"t":250,"ppm":243,"i":-8},{"t":250,"ppm":240,"i":-6},{"t":250,"ppm":237,"i":-10},{"t":250,"ppm":234,"i":-8},{"t":250,"ppm":231,"i":-12},{"t":250,"ppm":228,"i":-10},{"t":250,"ppm":226,"i":-15},{"t":250,"ppm":223,"i":-9},{"t":250,"ppm":220,"i":-12},{"t":250,"ppm":217,"i":-7},{"t":250,"ppm":214,"i":-10},{"t":250,"ppm":211,"i":-5},{"t":250,"ppm":208,"i":-8},{"t":250,"ppm":205,"i":-4},{"t":250,"ppm":202,"i":-6},{"t":250,"ppm":199,"i":-2},{"t":250,"ppm":196,"i":-5},{"t":250,"ppm":193,"i":-1},{"t":250,"ppm":190,"i":-3},{"t":250,"ppm":187,"i":0},{"t":250,"ppm":184,"i":-2},{"t":250,"ppm":181,"i":3},{"t":250,"ppm":178,"i":6},{"t":250,"ppm":175,"i":12},{"t":250,"ppm":173,"i":18},{"t":250,"ppm":172,"i":20},{"t":250,"ppm":170,"i":15},{"t":250,"ppm":168,"i":12},{"t":250,"ppm":166,"i":10},{"t":250,"ppm":163,"i":22},{"t":250,"ppm":160,"i":32},{"t":250,"ppm":158,"i":42},{"t":250,"ppm":156,"i":50},{"t":250,"ppm":154,"i":60},{"t":250,"ppm":152,"i":80},{"t":250,"ppm":150,"i":105},{"t":250,"ppm":148.5,"i":125},{"t":250,"ppm":147,"i":132},{"t":250,"ppm":145,"i":110},{"t":250,"ppm":143,"i":92},{"t":250,"ppm":141,"i":85},{"t":250,"ppm":139,"i":95},{"t":250,"ppm":137,"i":105},{"t":250,"ppm":135,"i":112},{"t":250,"ppm":133,"i":118},{"t":250,"ppm":131,"i":118},{"t":250,"ppm":129,"i":112},{"t":250,"ppm":127,"i":100},{"t":250,"ppm":125,"i":95},{"t":250,"ppm":123,"i":92},{"t":250,"ppm":121,"i":88},{"t":250,"ppm":119,"i":83},{"t":250,"ppm":117,"i":78},{"t":250,"ppm":115,"i":74},{"t":250,"ppm":113,"i":70},{"t":250,"ppm":111,"i":66},{"t":250,"ppm":109,"i":64},{"t":250,"ppm":107,"i":62},{"t":250,"ppm":105,"i":55},{"t":250,"ppm":103,"i":40},{"t":250,"ppm":101,"i":27},{"t":250,"ppm":99,"i":18},{"t":250,"ppm":97,"i":10},{"t":250,"ppm":95,"i":6},{"t":250,"ppm":93,"i":2},{"t":250,"ppm":91,"i":4},{"t":250,"ppm":89,"i":8},{"t":250,"ppm":87,"i":6},{"t":250,"ppm":85,"i":12},{"t":250,"ppm":83,"i":18},{"t":250,"ppm":81,"i":22},{"t":250,"ppm":79,"i":30},{"t":250,"ppm":77,"i":38},{"t":250,"ppm":75,"i":46},{"t":250,"ppm":73,"i":50},{"t":250,"ppm":71,"i":44},{"t":250,"ppm":69,"i":38},{"t":250,"ppm":67,"i":30},{"t":250,"ppm":65,"i":34},{"t":250,"ppm":63,"i":36},{"t":250,"ppm":61,"i":42},{"t":250,"ppm":59,"i":56},{"t":250,"ppm":58,"i":70},{"t":250,"ppm":57,"i":85},{"t":250,"ppm":56,"i":97},{"t":250,"ppm":55,"i":88},{"t":250,"ppm":53,"i":50},{"t":250,"ppm":51,"i":30},{"t":250,"ppm":49,"i":32},{"t":250,"ppm":47,"i":33},{"t":250,"ppm":45,"i":36},{"t":250,"ppm":43,"i":38},{"t":250,"ppm":41,"i":42},{"t":250,"ppm":39,"i":46},{"t":250,"ppm":37,"i":52},{"t":250,"ppm":35,"i":60},{"t":250,"ppm":33,"i":68},{"t":250,"ppm":31,"i":76},{"t":250,"ppm":30,"i":80},{"t":250,"ppm":28,"i":72},{"t":250,"ppm":26,"i":62},{"t":250,"ppm":24,"i":56},{"t":250,"ppm":22,"i":50},{"t":250,"ppm":21,"i":47},{"t":250,"ppm":19,"i":52},{"t":250,"ppm":17,"i":60},{"t":250,"ppm":15.5,"i":68},{"t":250,"ppm":14,"i":52},{"t":250,"ppm":12,"i":38},{"t":250,"ppm":10,"i":27},{"t":250,"ppm":8,"i":20},{"t":250,"ppm":6,"i":15},{"t":250,"ppm":4,"i":12},{"t":250,"ppm":1,"i":10},{"t":250,"ppm":-2,"i":6},{"t":250,"ppm":-5,"i":8},{"t":250,"ppm":-8,"i":3},{"t":250,"ppm":-11,"i":5},{"t":250,"ppm":-14,"i":0},{"t":250,"ppm":-17,"i":3},{"t":250,"ppm":-20,"i":-3},{"t":250,"ppm":-23,"i":1},{"t":250,"ppm":-26,"i":-7},{"t":250,"ppm":-29,"i":-2},{"t":250,"ppm":-32,"i":-6},{"t":250,"ppm":-35,"i":-1},{"t":250,"ppm":-38,"i":-5},{"t":250,"ppm":-41,"i":-8},{"t":250,"ppm":-44,"i":-3},{"t":250,"ppm":-47,"i":-2},{"t":250,"ppm":-49,"i":2},{"t":250,"ppm":-50,"i":6},
{"t":25,"ppm":250,"i":2},{"t":25,"ppm":248,"i":-1},{"t":25,"ppm":246,"i":1},{"t":25,"ppm":243,"i":-2},{"t":25,"ppm":240,"i":0},{"t":25,"ppm":237,"i":-3},{"t":25,"ppm":234,"i":1},{"t":25,"ppm":231,"i":-2},{"t":25,"ppm":228,"i":0},{"t":25,"ppm":225,"i":-3},{"t":25,"ppm":222,"i":1},{"t":25,"ppm":219,"i":-1},{"t":25,"ppm":216,"i":2},{"t":25,"ppm":213,"i":0},{"t":25,"ppm":210,"i":3},{"t":25,"ppm":207,"i":1},{"t":25,"ppm":204,"i":5},{"t":25,"ppm":202,"i":7},{"t":25,"ppm":200,"i":4},{"t":25,"ppm":197,"i":3},{"t":25,"ppm":194,"i":6},{"t":25,"ppm":191,"i":5},{"t":25,"ppm":188,"i":2},{"t":25,"ppm":185,"i":4},{"t":25,"ppm":182,"i":10},{"t":25,"ppm":180,"i":12},{"t":25,"ppm":178,"i":14},{"t":25,"ppm":176,"i":17},{"t":25,"ppm":174,"i":20},{"t":25,"ppm":172,"i":16},{"t":25,"ppm":170,"i":14},{"t":25,"ppm":168,"i":10},{"t":25,"ppm":165,"i":8},{"t":25,"ppm":162,"i":7},{"t":25,"ppm":160,"i":14},{"t":25,"ppm":158,"i":20},{"t":25,"ppm":156,"i":25},{"t":25,"ppm":154,"i":30},{"t":25,"ppm":152,"i":34},{"t":25,"ppm":150,"i":50},{"t":25,"ppm":148.5,"i":66},{"t":25,"ppm":147,"i":58},{"t":25,"ppm":145,"i":40},{"t":25,"ppm":143,"i":28},{"t":25,"ppm":141,"i":22},{"t":25,"ppm":139,"i":35},{"t":25,"ppm":137,"i":44},{"t":25,"ppm":135,"i":48},{"t":25,"ppm":133,"i":47},{"t":25,"ppm":131,"i":44},{"t":25,"ppm":129,"i":46},{"t":25,"ppm":127,"i":42},{"t":25,"ppm":125,"i":38},{"t":25,"ppm":123,"i":40},{"t":25,"ppm":121,"i":36},{"t":25,"ppm":119,"i":35},{"t":25,"ppm":117,"i":33},{"t":25,"ppm":115,"i":36},{"t":25,"ppm":113,"i":40},{"t":25,"ppm":111,"i":38},{"t":25,"ppm":109,"i":43},{"t":25,"ppm":107,"i":46},{"t":25,"ppm":105.5,"i":45},{"t":25,"ppm":104,"i":30},{"t":25,"ppm":102,"i":18},{"t":25,"ppm":100,"i":10},{"t":25,"ppm":98,"i":8},{"t":25,"ppm":96,"i":10},{"t":25,"ppm":94,"i":12},{"t":25,"ppm":92,"i":13},{"t":25,"ppm":90,"i":11},{"t":25,"ppm":88,"i":14},{"t":25,"ppm":86,"i":12},{"t":25,"ppm":84,"i":16},{"t":25,"ppm":82,"i":15},{"t":25,"ppm":80,"i":22},{"t":25,"ppm":78,"i":35},{"t":25,"ppm":76,"i":45},{"t":25,"ppm":74,"i":50},{"t":25,"ppm":72.5,"i":52},{"t":25,"ppm":71,"i":42},{"t":25,"ppm":69,"i":30},{"t":25,"ppm":67,"i":25},{"t":25,"ppm":65,"i":27},{"t":25,"ppm":63,"i":32},{"t":25,"ppm":61,"i":38},{"t":25,"ppm":59,"i":45},{"t":25,"ppm":57.5,"i":60},{"t":25,"ppm":56.5,"i":65},{"t":25,"ppm":55.5,"i":55},{"t":25,"ppm":54,"i":32},{"t":25,"ppm":52,"i":18},{"t":25,"ppm":50,"i":15},{"t":25,"ppm":48,"i":13},{"t":25,"ppm":46,"i":16},{"t":25,"ppm":44,"i":13},{"t":25,"ppm":42,"i":17},{"t":25,"ppm":40,"i":15},{"t":25,"ppm":38,"i":18},{"t":25,"ppm":36,"i":17},{"t":25,"ppm":34,"i":20},{"t":25,"ppm":32,"i":30},{"t":25,"ppm":31.3,"i":133},{"t":25,"ppm":30.7,"i":60},{"t":25,"ppm":30,"i":40},{"t":25,"ppm":28,"i":38},{"t":25,"ppm":26,"i":42},{"t":25,"ppm":24,"i":44},{"t":25,"ppm":22,"i":38},{"t":25,"ppm":20,"i":40},{"t":25,"ppm":18,"i":36},{"t":25,"ppm":16,"i":40},{"t":25,"ppm":15,"i":48},{"t":25,"ppm":14.5,"i":42},{"t":25,"ppm":13,"i":25},{"t":25,"ppm":11,"i":18},{"t":25,"ppm":9,"i":12},{"t":25,"ppm":7,"i":10},{"t":25,"ppm":5,"i":8},{"t":25,"ppm":2,"i":7},{"t":25,"ppm":-1,"i":6},{"t":25,"ppm":-4,"i":4},{"t":25,"ppm":-7,"i":5},{"t":25,"ppm":-10,"i":2},{"t":25,"ppm":-13,"i":4},{"t":25,"ppm":-16,"i":1},{"t":25,"ppm":-19,"i":3},{"t":25,"ppm":-22,"i":0},{"t":25,"ppm":-25,"i":2},{"t":25,"ppm":-28,"i":-1},{"t":25,"ppm":-31,"i":2},{"t":25,"ppm":-34,"i":0},{"t":25,"ppm":-37,"i":1},{"t":25,"ppm":-39,"i":-3},{"t":25,"ppm":-41,"i":6},{"t":25,"ppm":-43,"i":-2},{"t":25,"ppm":-45,"i":2},{"t":25,"ppm":-47,"i":-3},{"t":25,"ppm":-50,"i":-1}
],
"na": [
{"t":450,"ppm":50,"i":0},{"t":450,"ppm":47.5,"i":1},{"t":450,"ppm":45,"i":-1},{"t":450,"ppm":42.5,"i":1},{"t":450,"ppm":40,"i":0},{"t":450,"ppm":37.5,"i":2},{"t":450,"ppm":35,"i":0},{"t":450,"ppm":32.5,"i":1},{"t":450,"ppm":30,"i":2},{"t":450,"ppm":27.5,"i":1},{"t":450,"ppm":25,"i":2},{"t":450,"ppm":22.5,"i":3},{"t":450,"ppm":20,"i":3},{"t":450,"ppm":17.5,"i":4},{"t":450,"ppm":15,"i":6},{"t":450,"ppm":12.5,"i":7},{"t":450,"ppm":10,"i":9},{"t":450,"ppm":8,"i":12},{"t":450,"ppm":6,"i":18},{"t":450,"ppm":4.5,"i":25},{"t":450,"ppm":3,"i":35},{"t":450,"ppm":1.5,"i":46},{"t":450,"ppm":0,"i":57},{"t":450,"ppm":-1.5,"i":75},{"t":450,"ppm":-3,"i":100},{"t":450,"ppm":-4.5,"i":120},{"t":450,"ppm":-5.5,"i":129},{"t":450,"ppm":-6.5,"i":127},{"t":450,"ppm":-8,"i":118},{"t":450,"ppm":-9.5,"i":113},{"t":450,"ppm":-11,"i":112},{"t":450,"ppm":-12.5,"i":110},{"t":450,"ppm":-14,"i":108},{"t":450,"ppm":-15.5,"i":100},{"t":450,"ppm":-17,"i":92},{"t":450,"ppm":-18.5,"i":82},{"t":450,"ppm":-20,"i":70},{"t":450,"ppm":-22,"i":60},{"t":450,"ppm":-24,"i":51},{"t":450,"ppm":-26,"i":45},{"t":450,"ppm":-28,"i":40},{"t":450,"ppm":-30,"i":36},{"t":450,"ppm":-32,"i":31},{"t":450,"ppm":-34,"i":25},{"t":450,"ppm":-36,"i":18},{"t":450,"ppm":-38,"i":14},{"t":450,"ppm":-40,"i":11},{"t":450,"ppm":-42,"i":9},{"t":450,"ppm":-44,"i":7},{"t":450,"ppm":-46,"i":5},{"t":450,"ppm":-48,"i":4},{"t":450,"ppm":-50,"i":4},{"t":450,"ppm":-52.5,"i":2},{"t":450,"ppm":-55,"i":3},{"t":450,"ppm":-57.5,"i":1},{"t":450,"ppm":-60,"i":2},{"t":450,"ppm":-62.5,"i":0},{"t":450,"ppm":-65,"i":1},{"t":450,"ppm":-67.5,"i":-1},{"t":450,"ppm":-70,"i":0},{"t":450,"ppm":-72.5,"i":-2},{"t":450,"ppm":-75,"i":-1},
{"t":400,"ppm":50,"i":1},{"t":400,"ppm":47.5,"i":0},{"t":400,"ppm":45,"i":1},{"t":400,"ppm":42.5,"i":-1},{"t":400,"ppm":40,"i":1},{"t":400,"ppm":37.5,"i":0},{"t":400,"ppm":35,"i":2},{"t":400,"ppm":32.5,"i":1},{"t":400,"ppm":30,"i":2},{"t":400,"ppm":27.5,"i":2},{"t":400,"ppm":25,"i":3},{"t":400,"ppm":22.5,"i":3},{"t":400,"ppm":20,"i":4},{"t":400,"ppm":17.5,"i":5},{"t":400,"ppm":15,"i":6},{"t":400,"ppm":12.5,"i":8},{"t":400,"ppm":10,"i":11},{"t":400,"ppm":8.5,"i":16},{"t":400,"ppm":7,"i":18},{"t":400,"ppm":5.5,"i":19},{"t":400,"ppm":4,"i":22},{"t":400,"ppm":2.5,"i":40},{"t":400,"ppm":1,"i":65},{"t":400,"ppm":0,"i":83},{"t":400,"ppm":-1,"i":98},{"t":400,"ppm":-2,"i":106},{"t":400,"ppm":-3.5,"i":116},{"t":400,"ppm":-4.5,"i":125},{"t":400,"ppm":-5.5,"i":129},{"t":400,"ppm":-6.5,"i":124},{"t":400,"ppm":-8,"i":114},{"t":400,"ppm":-9.5,"i":107},{"t":400,"ppm":-10.5,"i":104},{"t":400,"ppm":-12,"i":108},{"t":400,"ppm":-13.5,"i":113},{"t":400,"ppm":-14.5,"i":110},{"t":400,"ppm":-15.5,"i":103},{"t":400,"ppm":-16.5,"i":99},{"t":400,"ppm":-18,"i":98},{"t":400,"ppm":-19,"i":90},{"t":400,"ppm":-20.5,"i":66},{"t":400,"ppm":-22,"i":56},{"t":400,"ppm":-24,"i":48},{"t":400,"ppm":-26,"i":40},{"t":400,"ppm":-28,"i":34},{"t":400,"ppm":-30,"i":30},{"t":400,"ppm":-32,"i":24},{"t":400,"ppm":-34,"i":16},{"t":400,"ppm":-36,"i":10},{"t":400,"ppm":-38,"i":6},{"t":400,"ppm":-40,"i":4},{"t":400,"ppm":-42,"i":3},{"t":400,"ppm":-44,"i":1},{"t":400,"ppm":-47,"i":2},{"t":400,"ppm":-50,"i":0},{"t":400,"ppm":-52.5,"i":1},{"t":400,"ppm":-55,"i":-1},{"t":400,"ppm":-57.5,"i":0},{"t":400,"ppm":-60,"i":1},{"t":400,"ppm":-62.5,"i":-1},{"t":400,"ppm":-65,"i":0},{"t":400,"ppm":-67.5,"i":1},{"t":400,"ppm":-70,"i":-1},{"t":400,"ppm":-72.5,"i":0},{"t":400,"ppm":-75,"i":0},
{"t":350,"ppm":50,"i":-2},{"t":350,"ppm":47.5,"i":-1},{"t":350,"ppm":45,"i":-2},{"t":350,"ppm":42.5,"i":0},{"t":350,"ppm":40,"i":-1},{"t":350,"ppm":37.5,"i":0},{"t":350,"ppm":35,"i":1},{"t":350,"ppm":32.5,"i":0},{"t":350,"ppm":30,"i":2},{"t":350,"ppm":27.5,"i":1},{"t":350,"ppm":25,"i":3},{"t":350,"ppm":22.5,"i":4},{"t":350,"ppm":20,"i":5},{"t":350,"ppm":17.5,"i":6},{"t":350,"ppm":15,"i":8},{"t":350,"ppm":12.5,"i":9},{"t":350,"ppm":10,"i":10},{"t":350,"ppm":8.5,"i":12},{"t":350,"ppm":7.3,"i":26},{"t":350,"ppm":6.5,"i":18},{"t":350,"ppm":5.5,"i":16},{"t":350,"ppm":4,"i":30},{"t":350,"ppm":2.5,"i":45},{"t":350,"ppm":1,"i":62},{"t":350,"ppm":-0.5,"i":80},{"t":350,"ppm":-2,"i":95},{"t":350,"ppm":-3.5,"i":105},{"t":350,"ppm":-5,"i":112},{"t":350,"ppm":-6.5,"i":117},{"t":350,"ppm":-8,"i":118},{"t":350,"ppm":-10,"i":120},{"t":350,"ppm":-12,"i":122},{"t":350,"ppm":-13.5,"i":124},{"t":350,"ppm":-14.5,"i":126},{"t":350,"ppm":-16,"i":120},{"t":350,"ppm":-17.5,"i":112},{"t":350,"ppm":-19,"i":100},{"t":350,"ppm":-20.5,"i":82},{"t":350,"ppm":-22,"i":65},{"t":350,"ppm":-23.5,"i":56},{"t":350,"ppm":-25,"i":50},{"t":350,"ppm":-27,"i":44},{"t":350,"ppm":-29,"i":38},{"t":350,"ppm":-31,"i":31},{"t":350,"ppm":-33,"i":24},{"t":350,"ppm":-35,"i":16},{"t":350,"ppm":-37,"i":9},{"t":350,"ppm":-39,"i":6},{"t":350,"ppm":-41,"i":4},{"t":350,"ppm":-43,"i":2},{"t":350,"ppm":-45,"i":1},{"t":350,"ppm":-48,"i":0},{"t":350,"ppm":-51,"i":1},{"t":350,"ppm":-54,"i":-1},{"t":350,"ppm":-57,"i":0},{"t":350,"ppm":-60,"i":-2},{"t":350,"ppm":-63,"i":0},{"t":350,"ppm":-66,"i":-1},{"t":350,"ppm":-69,"i":-2},{"t":350,"ppm":-72,"i":0},{"t":350,"ppm":-75,"i":-2},
{"t":300,"ppm":50,"i":1},{"t":300,"ppm":47.5,"i":0},{"t":300,"ppm":45,"i":1},{"t":300,"ppm":42.5,"i":2},{"t":300,"ppm":40,"i":1},{"t":300,"ppm":37.5,"i":2},{"t":300,"ppm":35,"i":2},{"t":300,"ppm":32.5,"i":3},{"t":300,"ppm":30,"i":3},{"t":300,"ppm":27.5,"i":4},{"t":300,"ppm":25,"i":4},{"t":300,"ppm":22.5,"i":5},{"t":300,"ppm":20,"i":6},{"t":300,"ppm":17.5,"i":7},{"t":300,"ppm":15,"i":8},{"t":300,"ppm":12.5,"i":9},{"t":300,"ppm":10,"i":10},{"t":300,"ppm":7.5,"i":11},{"t":300,"ppm":5,"i":14},{"t":300,"ppm":3.5,"i":20},{"t":300,"ppm":2,"i":30},{"t":300,"ppm":0.5,"i":45},{"t":300,"ppm":-1,"i":58},{"t":300,"ppm":-2.5,"i":72},{"t":300,"ppm":-4,"i":86},{"t":300,"ppm":-5.5,"i":98},{"t":300,"ppm":-7,"i":107},{"t":300,"ppm":-8.5,"i":114},{"t":300,"ppm":-10,"i":120},{"t":300,"ppm":-11.5,"i":125},{"t":300,"ppm":-12.7,"i":128},{"t":300,"ppm":-14,"i":125},{"t":300,"ppm":-15.5,"i":119},{"t":300,"ppm":-17,"i":112},{"t":300,"ppm":-18.5,"i":104},{"t":300,"ppm":-20,"i":94},{"t":300,"ppm":-21.5,"i":84},{"t":300,"ppm":-23,"i":74},{"t":300,"ppm":-25,"i":64},{"t":300,"ppm":-27,"i":56},{"t":300,"ppm":-29,"i":49},{"t":300,"ppm":-31,"i":42},{"t":300,"ppm":-33,"i":35},{"t":300,"ppm":-35,"i":28},{"t":300,"ppm":-37,"i":21},{"t":300,"ppm":-39,"i":16},{"t":300,"ppm":-41,"i":11},{"t":300,"ppm":-43,"i":8},{"t":300,"ppm":-45,"i":6},{"t":300,"ppm":-47,"i":4},{"t":300,"ppm":-50,"i":3},{"t":300,"ppm":-53,"i":2},{"t":300,"ppm":-56,"i":1},{"t":300,"ppm":-59,"i":2},{"t":300,"ppm":-62,"i":0},{"t":300,"ppm":-65,"i":1},{"t":300,"ppm":-68,"i":-1},{"t":300,"ppm":-71,"i":0},{"t":300,"ppm":-73,"i":-2},{"t":300,"ppm":-75,"i":-2},
{"t":250,"ppm":50,"i":0},{"t":250,"ppm":47.5,"i":-1},{"t":250,"ppm":45,"i":0},{"t":250,"ppm":42.5,"i":1},{"t":250,"ppm":40,"i":0},{"t":250,"ppm":37.5,"i":1},{"t":250,"ppm":35,"i":1},{"t":250,"ppm":32.5,"i":2},{"t":250,"ppm":30,"i":2},{"t":250,"ppm":27.5,"i":3},{"t":250,"ppm":25,"i":3},{"t":250,"ppm":22.5,"i":3},{"t":250,"ppm":20,"i":4},{"t":250,"ppm":17.5,"i":4},{"t":250,"ppm":15,"i":5},{"t":250,"ppm":12.5,"i":6},{"t":250,"ppm":10,"i":8},{"t":250,"ppm":7.5,"i":10},{"t":250,"ppm":5,"i":14},{"t":250,"ppm":3,"i":22},{"t":250,"ppm":1.5,"i":35},{"t":250,"ppm":0,"i":50},{"t":250,"ppm":-1.5,"i":65},{"t":250,"ppm":-3,"i":80},{"t":250,"ppm":-4.5,"i":92},{"t":250,"ppm":-6,"i":102},{"t":250,"ppm":-7.5,"i":112},{"t":250,"ppm":-9,"i":120},{"t":250,"ppm":-10.5,"i":126},{"t":250,"ppm":-12,"i":129},{"t":250,"ppm":-13.5,"i":126},{"t":250,"ppm":-15,"i":119},{"t":250,"ppm":-16.5,"i":111},{"t":250,"ppm":-18,"i":103},{"t":250,"ppm":-19.5,"i":94},{"t":250,"ppm":-21,"i":84},{"t":250,"ppm":-22.5,"i":74},{"t":250,"ppm":-24,"i":64},{"t":250,"ppm":-26,"i":54},{"t":250,"ppm":-28,"i":45},{"t":250,"ppm":-30,"i":37},{"t":250,"ppm":-32,"i":29},{"t":250,"ppm":-34,"i":23},{"t":250,"ppm":-36,"i":17},{"t":250,"ppm":-38,"i":13},{"t":250,"ppm":-40,"i":9},{"t":250,"ppm":-42,"i":7},{"t":250,"ppm":-44,"i":5},{"t":250,"ppm":-47,"i":3},{"t":250,"ppm":-50,"i":2},{"t":250,"ppm":-53,"i":2},{"t":250,"ppm":-56,"i":1},{"t":250,"ppm":-59,"i":1},{"t":250,"ppm":-62,"i":0},{"t":250,"ppm":-65,"i":1},{"t":250,"ppm":-68,"i":-1},{"t":250,"ppm":-71,"i":0},{"t":250,"ppm":-73,"i":-1},{"t":250,"ppm":-75,"i":-1},
{"t":25,"ppm":50,"i":0},{"t":25,"ppm":47.5,"i":-1},{"t":25,"ppm":45,"i":1},{"t":25,"ppm":42.5,"i":0},{"t":25,"ppm":40,"i":1},{"t":25,"ppm":37.5,"i":1},{"t":25,"ppm":35,"i":2},{"t":25,"ppm":32.5,"i":2},{"t":25,"ppm":30,"i":2},{"t":25,"ppm":27.5,"i":3},{"t":25,"ppm":25,"i":3},{"t":25,"ppm":22.5,"i":4},{"t":25,"ppm":20,"i":5},{"t":25,"ppm":17.5,"i":5},{"t":25,"ppm":15,"i":6},{"t":25,"ppm":12.5,"i":7},{"t":25,"ppm":10,"i":8},{"t":25,"ppm":7.5,"i":11},{"t":25,"ppm":5,"i":15},{"t":25,"ppm":3,"i":25},{"t":25,"ppm":1.5,"i":40},{"t":25,"ppm":0,"i":55},{"t":25,"ppm":-1.5,"i":72},{"t":25,"ppm":-3,"i":88},{"t":25,"ppm":-4.5,"i":102},{"t":25,"ppm":-6,"i":112},{"t":25,"ppm":-7.5,"i":120},{"t":25,"ppm":-9,"i":125},{"t":25,"ppm":-10,"i":126},{"t":25,"ppm":-11,"i":122},{"t":25,"ppm":-12.7,"i":111},{"t":25,"ppm":-14.5,"i":90},{"t":25,"ppm":-16.5,"i":68},{"t":25,"ppm":-18.5,"i":52},{"t":25,"ppm":-20,"i":45},{"t":25,"ppm":-22,"i":38},{"t":25,"ppm":-24,"i":32},{"t":25,"ppm":-26,"i":27},{"t":25,"ppm":-28,"i":22},{"t":25,"ppm":-30,"i":19},{"t":25,"ppm":-32,"i":16},{"t":25,"ppm":-34,"i":13},{"t":25,"ppm":-36,"i":10},{"t":25,"ppm":-38,"i":8},{"t":25,"ppm":-40,"i":6},{"t":25,"ppm":-42,"i":5},{"t":25,"ppm":-45,"i":4},{"t":25,"ppm":-48,"i":3},{"t":25,"ppm":-51,"i":2},{"t":25,"ppm":-54,"i":2},{"t":25,"ppm":-57,"i":1},{"t":25,"ppm":-60,"i":1},{"t":25,"ppm":-63,"i":0},{"t":25,"ppm":-66,"i":1},{"t":25,"ppm":-69,"i":0},{"t":25,"ppm":-72,"i":-1},{"t":25,"ppm":-75,"i":-1}
]
},
"hconcat": [
{
"spacing": 67,
"hconcat": [
{
  "data": {"name": "cp"},
  "title": {"text": "¹³C CP/MAS", "dx": 12},
  "bounds": "flush",
  "facet": {"row": {"field": "t", "type": "ordinal", "sort": "descending", "title": "Temperature (°C)",
    "header": {"labelAngle": 0, "labelAlign": "left", "labelBaseline": "middle", "labelFontSize": 15, "labelFontWeight": "bold", "labelColor": "black", "labelPadding": 7, "labelExpr": "datum.value == 25 ? '\u200725' : datum.label", "titleOrient": "top", "titleAngle": 0, "titleAlign": "center", "titleAnchor": "start", "titleFontSize": 16, "titleFontStyle": "italic", "titleFontWeight": "bold", "titleColor": "black", "titlePadding": 3}}},
  "spacing": {"row": 0},
  "spec": {
    "width": 296, "height": 124,
    "mark": {"type": "line", "color": "black", "strokeWidth": 1.6},
    "encoding": {
      "x": {"field": "ppm", "type": "quantitative", "scale": {"domain": [250, -50], "nice": false, "zero": false}, "axis": {"title": "ppm", "values": [250,225,200,175,150,125,100,75,50,25,0,-25,-50], "format": "d", "labelExpr": "datum.value % 50 === 0 ? datum.label : ''"}},
      "y": {"field": "i", "type": "quantitative", "scale": {"domain": [-38, 86], "nice": false, "zero": false}, "axis": null}
    }
  }
},
{
  "data": {"name": "sp"},
  "title": {"text": "¹³C SP/MAS", "dx": -8},
  "bounds": "flush",
  "facet": {"row": {"field": "t", "type": "ordinal", "sort": "descending", "title": null, "header": {"labels": false}}},
  "spacing": {"row": 0},
  "spec": {
    "width": 297, "height": 124,
    "mark": {"type": "line", "color": "black", "strokeWidth": 1.5},
    "encoding": {
      "x": {"field": "ppm", "type": "quantitative", "scale": {"domain": [250, -50], "nice": false, "zero": false}, "axis": {"title": "ppm", "values": [250,225,200,175,150,125,100,75,50,25,0,-25,-50], "format": "d", "labelExpr": "datum.value % 50 === 0 ? datum.label : ''"}},
      "y": {"field": "i", "type": "quantitative", "scale": {"domain": [-38, 86], "nice": false, "zero": false}, "axis": null}
    }
  }
}
]
},
{
  "data": {"name": "na"},
  "title": {"text": "²³Na SP/MAS", "dx": -2},
  "bounds": "flush",
  "facet": {"row": {"field": "t", "type": "ordinal", "sort": "descending", "title": null, "header": {"labels": false}}},
  "spacing": {"row": 0},
  "spec": {
    "width": 296, "height": 124,
    "mark": {"type": "line", "color": "black", "strokeWidth": 1.6},
    "encoding": {
      "x": {"field": "ppm", "type": "quantitative", "scale": {"domain": [50, -75], "nice": false, "zero": false}, "axis": {"title": "ppm", "values": [50,40,30,20,10,0,-10,-20,-30,-40,-50,-60,-70], "format": "d", "labelExpr": "datum.value % 20 === 0 ? datum.label : ''"}},
      "y": {"field": "i", "type": "quantitative", "scale": {"domain": [-38, 86], "nice": false, "zero": false}, "axis": null}
    }
  }
}
]
}
